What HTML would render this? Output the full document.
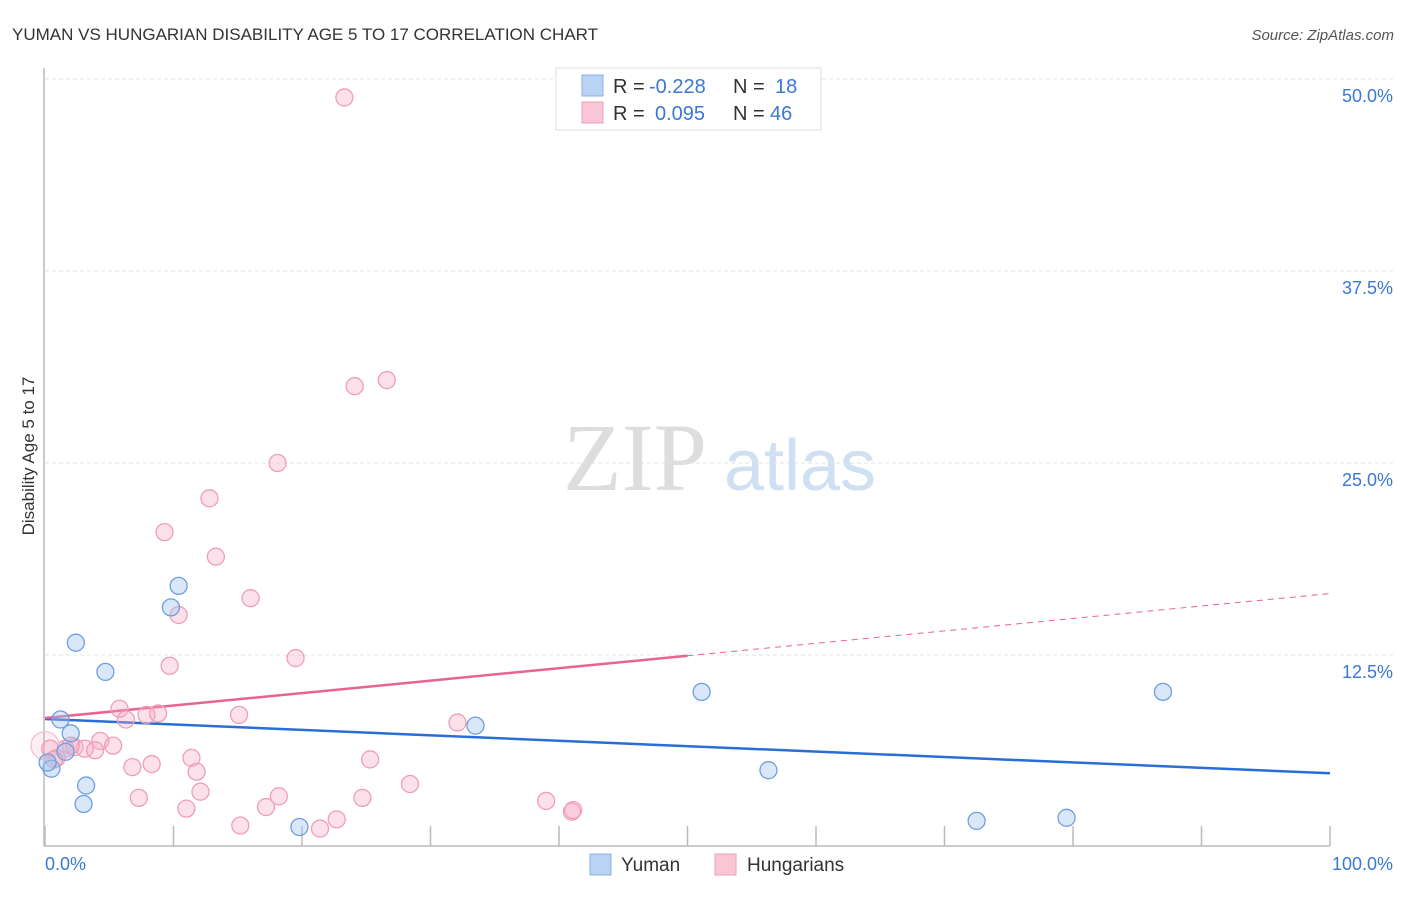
<!DOCTYPE html>
<html><head><meta charset="utf-8"><style>
body{margin:0;background:#fff;font-family:"Liberation Sans",sans-serif}
</style></head><body>
<svg width="1406" height="892" viewBox="0 0 1406 892" xmlns="http://www.w3.org/2000/svg">
<text x="12" y="40" font-size="17" fill="#333">YUMAN VS HUNGARIAN DISABILITY AGE 5 TO 17 CORRELATION CHART</text>
<text x="1394" y="40" font-size="15" fill="#555" font-style="italic" text-anchor="end">Source: ZipAtlas.com</text>
<text transform="translate(34,456) rotate(-90)" font-size="17" fill="#333" text-anchor="middle">Disability Age 5 to 17</text>
<g><text x="635" y="490" font-size="96" font-family="Liberation Serif,serif" fill="#ddd" text-anchor="middle">ZIP</text><text x="800" y="490" font-size="72" fill="#cfe0f3" text-anchor="middle">atlas</text></g>
<g id="grid"></g><g id="axes"></g><g id="trends"></g><g id="pts"></g>
<g>
<rect x="556" y="68" width="265" height="62" fill="#fff" stroke="#ddd"/>
<rect x="582" y="75" width="21" height="21" fill="#b9d3f5" stroke="#8ab0e6"/>
<rect x="582" y="102" width="21" height="21" fill="#f9c6d5" stroke="#ee9fb6"/>
<g font-size="20" fill="#333">
<text x="613" y="93">R =</text><text x="649" y="93" fill="#3a78d4">-0.228</text><text x="733" y="93">N =</text><text x="775" y="93" fill="#3a78d4">18</text>
<text x="613" y="120">R =</text><text x="655" y="120" fill="#3a78d4">0.095</text><text x="733" y="120">N =</text><text x="770" y="120" fill="#3a78d4">46</text>
</g>
</g>
<g>
<rect x="590" y="854" width="21" height="21" fill="#b9d3f5" stroke="#8ab0e6"/><text x="621" y="871" font-size="19" fill="#333">Yuman</text>
<rect x="715" y="854" width="21" height="21" fill="#f9c6d5" stroke="#ee9fb6"/><text x="747" y="871" font-size="19" fill="#333">Hungarians</text>
</g>
<text x="45" y="870" font-size="18" fill="#3a78d4">0.0%</text>
<text x="1393" y="870" font-size="18" fill="#3a78d4" text-anchor="end">100.0%</text>
</svg>
<script>
const yTicks=[12.5,25,37.5,50];
const yTickLabels=["12.5%","25.0%","37.5%","50.0%"];
const xTicks=[0,10,20,30,40,50,60,70,80,90,100];
const yumanX=[0.5,0.2,1.2,2.0,2.4,3.2,3.0,4.7,9.8,10.4,19.8,33.5,51.1,56.3,72.5,79.5,87.0,1.6];
const yumanY=[5.1,5.5,8.3,7.4,13.3,4.0,2.8,11.4,15.6,17.0,1.3,7.9,10.1,5.0,1.7,1.9,10.1,6.2];
const hungX=[23.3,24.1,26.6,18.1,12.8,9.3,13.3,16.0,10.4,19.5,9.7,5.8,6.3,7.9,8.8,15.1,32.1,4.3,5.3,1.6,2.3,3.1,3.9,0.9,0.4,6.8,8.3,11.4,11.8,25.3,7.3,11.0,12.1,15.2,17.2,18.2,21.4,22.7,24.7,28.4,39.0,41.0,41.1,2.0,0.7,0];
const hungY=[48.8,30.0,30.4,25.0,22.7,20.5,18.9,16.2,15.1,12.3,11.8,9.0,8.3,8.6,8.7,8.6,8.1,6.9,6.6,6.4,6.5,6.4,6.3,5.8,6.4,5.2,5.4,5.8,4.9,5.7,3.2,2.5,3.6,1.4,2.6,3.3,1.2,1.8,3.2,4.1,3.0,2.3,2.4,6.6,5.7,6.6];
const yumanTrend=[8.33,4.8];
const hungTrend=[8.4,16.5];
const X=v=>45+v*12.85, Y=v=>847-v*15.36;
const NS="http://www.w3.org/2000/svg";
function mk(t,a,p){const e=document.createElementNS(NS,t);for(const k in a)e.setAttribute(k,a[k]);document.getElementById(p).appendChild(e);return e;}
yTicks.forEach((t,i)=>{
 const l=mk('line',{x1:45,x2:1394,y1:Y(t),y2:Y(t),stroke:'#e3e3e3','stroke-dasharray':'4,3'},'grid');
 
 
 const tx=mk('text',{x:1393,y:Y(t)+23,'font-size':18,fill:'#3a78d4','text-anchor':'end'},'grid');
 tx.textContent=yTickLabels[i];
 
 
});
const ax=mk('line',{x1:44,x2:44,y1:68,y2:846,stroke:'#bbb','stroke-width':1.5},'axes');


const bx=mk('line',{x1:44,x2:1330,y1:846,y2:846,stroke:'#bbb','stroke-width':1.5},'axes');


xTicks.forEach(t=>{const l=mk('line',{x1:X(t),x2:X(t),y1:826,y2:846,stroke:'#bbb','stroke-width':1.5},'axes');
 
 });
let t1=mk('line',{x1:X(0),y1:Y(yumanTrend[0]),x2:X(100),y2:Y(yumanTrend[1]),stroke:'#2a6dd6','stroke-width':2.5},'trends');


const hm=(hungTrend[0]+hungTrend[1])/2;
let t2=mk('line',{x1:X(0),y1:Y(hungTrend[0]),x2:X(50),y2:Y(hm),stroke:'#e8638e','stroke-width':2.5},'trends');


let t3=mk('line',{x1:X(50),y1:Y(hm),x2:X(100),y2:Y(hungTrend[1]),stroke:'#e8638e','stroke-width':1,'stroke-dasharray':'6,5'},'trends');


hungX.forEach((x,i)=>{const c=mk('circle',{cx:X(x),cy:Y(hungY[i]),r:i==45?14:8.5,fill:i==45?'rgba(246,170,194,0.2)':'rgba(246,170,194,0.35)',stroke:i==45?'#f3c0cf':'#ee9fb6','stroke-width':1.3},'pts');
 
 });
yumanX.forEach((x,i)=>{const c=mk('circle',{cx:X(x),cy:Y(yumanY[i]),r:8.5,fill:'rgba(160,196,240,0.4)',stroke:'#6f9fe0','stroke-width':1.3},'pts');
 
 });
</script>
</body></html>
